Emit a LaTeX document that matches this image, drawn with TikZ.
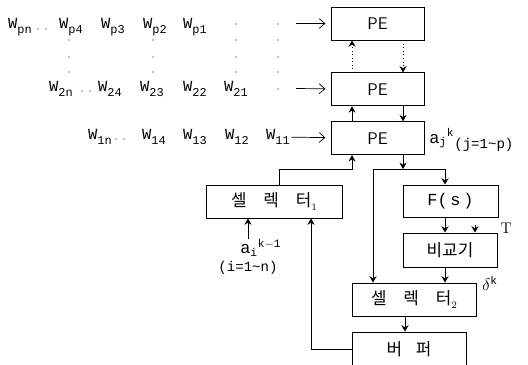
\documentclass[tikz,border=0pt]{standalone}
\usepackage{fontspec}
\setmonofont{Liberation Mono}
\newfontfamily\kor{Noto Sans CJK KR}
\usetikzlibrary{arrows.meta, positioning}

\newcommand{\wt}[1]{W\raisebox{-0.55ex}{\fontsize{8.5}{9}\selectfont #1}}

\begin{document}
\begin{tikzpicture}[
    x=0.025cm, y=-0.025cm,
    box/.style={rectangle, draw, line width=0.6pt, inner sep=0pt,
                minimum height=0.825cm, align=center},
    kbox/.style={box, font=\kor\fontsize{12}{13}\selectfont},
    wlab/.style={font=\ttfamily\fontsize{11}{12}\selectfont, inner sep=1pt},
    lab/.style={font=\ttfamily\fontsize{12}{13}\selectfont, inner sep=0pt},
    arr/.style={-{Stealth[length=4.5pt,width=5pt]}, line width=0.5pt},
    inarr/.style={-{Straight Barb[length=4pt,width=7pt]}, line width=0.5pt, shorten >=1.3mm},
]
\useasboundingbox (0,0) rectangle (528,364);

% processing elements
\node[box, minimum width=2.325cm, font=\sffamily\fontsize{12}{13}\selectfont] (pe1) at (377.5,23.5) {PE};
\node[box, minimum width=2.325cm, font=\sffamily\fontsize{12}{13}\selectfont, below=0.8cm of pe1] (pe2) {PE};
\node[box, minimum width=2.325cm, font=\sffamily\fontsize{12}{13}\selectfont, below=0.375cm of pe2] (pe3) {PE};

% lower blocks
\node[kbox, minimum width=3.4cm] (sel1) at (274,201.5) {셀\hspace{1em}렉\hspace{1em}터\raisebox{-0.4ex}{\rmfamily\scriptsize 1}};
\node[box, minimum width=2.375cm, minimum height=0.8cm, font=\ttfamily\fontsize{12}{13}\selectfont] (fs) at (450.5,201) {F(\,s\,)};
\node[kbox, minimum width=2.35cm, minimum height=0.85cm] (comp) at (450,250) {비교기};
\node[kbox, minimum width=3.1cm] (sel2) at (414,299.5) {셀\hspace{1em}렉\hspace{1em}터\raisebox{-0.4ex}{\rmfamily\scriptsize 2}};
\node[kbox, minimum width=2.85cm, minimum height=0.875cm] (buf) at (409,349.5) {버\hspace{0.8em}퍼};

% weight inputs
\node[wlab] (wpn) at (20,27) {\wt{pn}};
\node[wlab] (wp4) at (71,27) {\wt{p4}};
\node[wlab] (wp3) at (113,27) {\wt{p3}};
\node[wlab] (wp2) at (155,27) {\wt{p2}};
\node[wlab] (wp1) at (195,27) {\wt{p1}};
\node[wlab] (w2n) at (61,89) {\wt{2n}};
\node[wlab] (w24) at (110,89) {\wt{24}};
\node[wlab] (w23) at (152,89) {\wt{23}};
\node[wlab] (w22) at (195,89) {\wt{22}};
\node[wlab] (w21) at (236,89) {\wt{21}};
\node[wlab] (w1n) at (100,137) {\wt{1n}};
\node[wlab] (w14) at (154,137) {\wt{14}};
\node[wlab] (w13) at (195,137) {\wt{13}};
\node[wlab] (w12) at (237,137) {\wt{12}};
\node[wlab] (w11) at (278,137) {\wt{11}};

\foreach \x/\y in {69/40,69/57,69/72, 153/40,153/57,153/72,
                   236/24,236/40,236/57,236/72, 278/24,278/40,278/57,278/72,278/89,
                   38/29,46/29, 82/91,90/91, 116/139,124/139}
  \fill (\x,\y) circle (0.45pt);

% labels
\node[lab, anchor=west] (ajk) at (429,140) {$\mathtt{a}_{\mathtt{j}}{}^{\mathtt{k}}$\raisebox{-0.6ex}{\fontsize{10}{11}\selectfont(j=1\textasciitilde p)}};
\node[lab, anchor=west] (aik) at (240,248) {$\mathtt{a}_{\mathtt{i}}{}^{\mathtt{k-1}}$};
\node[lab, font=\ttfamily\fontsize{10}{11}\selectfont] (irng) at (248,268) {(i=1\textasciitilde n)};
\node[lab] (dk) at (490,283) {$\delta^{\mathtt{k}}$};
\node[lab, font=\rmfamily\fontsize{11}{12}\selectfont] (tlab) at (506,228) {T};

\coordinate (inp) at (296,23.5);
\coordinate (in2) at (296,88.5);
\coordinate (xu) at (352,0);
\coordinate (xd) at (403,0);
\coordinate (xs) at (279,0);
\coordinate (t5) at (352,169);
\coordinate (jn) at (403,169);
\coordinate (jl) at (373,169);
\coordinate (jr) at (445,169);
\coordinate (tin) at (475,225);
\coordinate (xo) at (405,0);
\coordinate (xb) at (311,0);
\coordinate (xa) at (248,0);

\draw[inarr] (inp) -- (pe1);
\draw[inarr] (in2) -- (pe2);
\draw[inarr] (w11) -- (pe3);

\draw[arr, dotted] (pe2.north -| xu) -- (pe1.south -| xu);
\draw[arr, dotted] (pe1.south -| xd) -- (pe2.north -| xd);
\draw[arr] (pe3.north -| xu) -- (pe2.south -| xu);
\draw[arr] (pe2.south -| xd) -- (pe3.north -| xd);

\draw[arr] (sel1.north -| xs) |- (t5) -- (pe3.south -| t5);
\draw[arr] (pe3.south -| jn) -- (jn);
\draw (jl) -- (jr);
\draw[arr] (jr) -- (fs.north -| jr);
\draw[arr] (jl) -- (sel2.north -| jl);
\draw[arr] (fs.south -| jr) -- (comp.north -| jr);
\draw[arr] (tin) -- (comp.north -| tin);
\draw[arr] (comp.south -| jr) -- (sel2.north -| jr);
\draw[arr] (sel2.south -| xo) -- (buf.north -| xo);
\draw[arr] (buf.west) -| (sel1.south -| xb);
\draw[arr] (aik.north -| xa) -- (sel1.south -| xa);

\end{tikzpicture}
\end{document}
